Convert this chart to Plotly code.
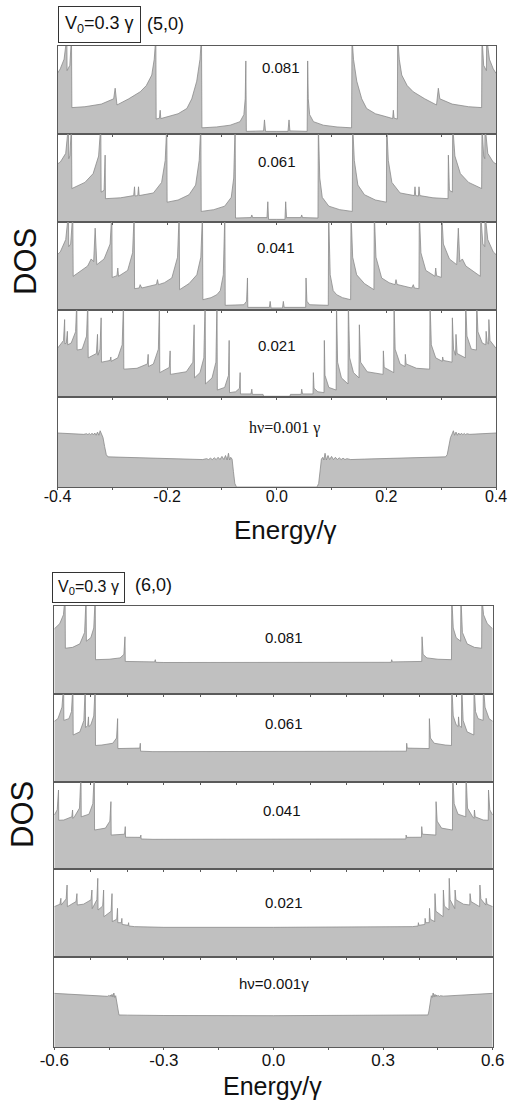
import plotly.graph_objects as go

W, H = 510, 1102

# ---------------- DATA (positive-energy half; DOS curves are symmetric in E) ----------------
# (5,0) tube, V0 = 0.3 gamma ; energy in units of gamma ; DOS normalised to panel height
E50_081 = [0.0000, 0.0205, 0.0224, 0.0240, 0.0555, 0.0564, 0.0575, 0.0600, 0.0670, 0.0850, 0.1100, 0.1365,
           0.1373, 0.1400, 0.1460, 0.1550, 0.1640, 0.1800, 0.2006, 0.2115, 0.2127, 0.2140, 0.2200, 0.2206,
           0.2235, 0.2280, 0.2380, 0.2490, 0.2700, 0.2915, 0.2948, 0.2975, 0.3200, 0.3500, 0.3738, 0.3745,
           0.3775, 0.3825, 0.3830, 0.3880, 0.3950, 0.4000]
D50_081 = [0.03, 0.03, 0.16, 0.035, 0.03, 0.83, 0.40, 0.22, 0.14, 0.10, 0.08, 0.07,
           1.10, 0.85, 0.60, 0.40, 0.29, 0.23, 0.195, 0.175, 0.27, 0.18, 0.17, 1.10,
           0.85, 0.67, 0.55, 0.48, 0.40, 0.33, 0.52, 0.40, 0.34, 0.31, 0.30, 1.10,
           0.78, 0.72, 1.10, 0.85, 0.74, 0.69]

E50_061 = [0.0000, 0.0150, 0.0163, 0.0178, 0.0440, 0.0455, 0.0470, 0.0752, 0.0759, 0.0785, 0.0830, 0.0950,
           0.1150, 0.1378, 0.1385, 0.1415, 0.1480, 0.1600, 0.1800, 0.2000, 0.2006, 0.2035, 0.2100, 0.2250,
           0.2510, 0.2522, 0.2535, 0.2585, 0.2595, 0.2610, 0.2850, 0.3125, 0.3131, 0.3150, 0.3204, 0.3210,
           0.3250, 0.3350, 0.3500, 0.3738, 0.3745, 0.3775, 0.3795, 0.3800, 0.3850, 0.3950, 0.4000]
D50_061 = [0.03, 0.03, 0.23, 0.05, 0.05, 0.08, 0.05, 0.045, 1.10, 0.50, 0.28, 0.18,
           0.14, 0.12, 1.10, 0.70, 0.42, 0.31, 0.25, 0.225, 1.10, 0.70, 0.45, 0.33,
           0.30, 0.40, 0.30, 0.295, 0.40, 0.30, 0.275, 0.265, 0.76, 0.36, 0.34, 1.10,
           0.75, 0.55, 0.45, 0.38, 1.10, 0.75, 0.72, 1.10, 0.78, 0.68, 0.66]

E50_041 = [0.0000, 0.0105, 0.0120, 0.0135, 0.0528, 0.0534, 0.0550, 0.0600, 0.0940, 0.0947, 0.0975, 0.1030,
           0.1093, 0.1200, 0.1348, 0.1355, 0.1385, 0.1458, 0.1600, 0.1773, 0.1780, 0.1810, 0.1914, 0.2050,
           0.2158, 0.2176, 0.2195, 0.2462, 0.2492, 0.2510, 0.2594, 0.2601, 0.2630, 0.2720, 0.2887, 0.2900,
           0.2915, 0.3002, 0.3009, 0.3040, 0.3150, 0.3283, 0.3313, 0.3340, 0.3386, 0.3450, 0.3714, 0.3721,
           0.3760, 0.3795, 0.3800, 0.3850, 0.3950, 0.4000]
D50_041 = [0.023, 0.023, 0.098, 0.03, 0.03, 0.364, 0.10, 0.06, 0.053, 1.10, 0.40, 0.22,
           0.174, 0.14, 0.117, 1.10, 0.60, 0.40, 0.30, 0.231, 1.10, 0.60, 0.364, 0.31,
           0.288, 0.345, 0.29, 0.25, 0.288, 0.25, 0.242, 1.10, 0.65, 0.45, 0.383, 0.477,
           0.39, 0.37, 1.10, 0.75, 0.58, 0.515, 0.93, 0.55, 0.58, 0.50, 0.383, 1.10,
           0.75, 0.72, 1.10, 0.80, 0.66, 0.63]

E50_021 = [0.0000, 0.0240, 0.0250, 0.0445, 0.0455, 0.0470, 0.0662, 0.0668, 0.0680, 0.0750, 0.0862, 0.0868,
           0.0880, 0.0950, 0.1084, 0.1090, 0.1110, 0.1180, 0.1300, 0.1306, 0.1330, 0.1400, 0.1500, 0.1507,
           0.1530, 0.1650, 0.1940, 0.1945, 0.1960, 0.2134, 0.2140, 0.2160, 0.2250, 0.2340, 0.2346, 0.2360,
           0.2550, 0.2790, 0.2796, 0.2820, 0.2900, 0.3020, 0.3027, 0.3040, 0.3198, 0.3204, 0.3225, 0.3262,
           0.3270, 0.3290, 0.3440, 0.3447, 0.3470, 0.3550, 0.3642, 0.3648, 0.3670, 0.3750, 0.3814, 0.3820,
           0.3840, 0.3864, 0.3870, 0.3890, 0.4000]
D50_021 = [0.008, 0.008, 0.03, 0.03, 0.09, 0.035, 0.035, 0.28, 0.10, 0.06, 0.05, 0.65,
           0.25, 0.11, 0.08, 1.10, 0.40, 0.22, 0.15, 1.10, 0.45, 0.28, 0.22, 0.83,
           0.40, 0.29, 0.26, 0.53, 0.34, 0.28, 1.10, 0.55, 0.38, 0.35, 0.49, 0.38,
           0.33, 0.32, 1.10, 0.60, 0.45, 0.41, 0.46, 0.42, 0.40, 0.91, 0.55, 0.48,
           0.72, 0.50, 0.45, 1.10, 0.70, 0.55, 0.54, 1.10, 0.75, 0.62, 0.60, 0.755,
           0.62, 0.61, 0.89, 0.65, 0.56]

E50_001 = [0.0000, 0.0735, 0.0765, 0.0790, 0.0815, 0.0840, 0.0860, 0.0881, 0.0905, 0.0935, 0.0965, 0.1000,
           0.1035, 0.1070, 0.1105, 0.1140, 0.1175, 0.1210, 0.1245, 0.1280, 0.1350, 0.1600, 0.2000, 0.2500,
           0.3080, 0.3110, 0.3140, 0.3170, 0.3200, 0.3222, 0.3245, 0.3270, 0.3295, 0.3320, 0.3345, 0.3370,
           0.3395, 0.3420, 0.3445, 0.3470, 0.3520, 0.4000]
D50_001 = [0.0, 0.0, 0.04, 0.17, 0.31, 0.33, 0.30, 0.375, 0.30, 0.35, 0.305, 0.34,
           0.305, 0.33, 0.305, 0.325, 0.305, 0.32, 0.305, 0.315, 0.305, 0.31, 0.318, 0.325,
           0.335, 0.36, 0.45, 0.55, 0.59, 0.625, 0.575, 0.61, 0.575, 0.60, 0.578, 0.598,
           0.58, 0.595, 0.582, 0.592, 0.585, 0.60]

# (6,0) tube
E60_081 = [0.0000, 0.3000, 0.3222, 0.3235, 0.3255, 0.4058, 0.4066, 0.4095, 0.4200, 0.4500, 0.4872, 0.4880,
           0.4920, 0.5000, 0.5122, 0.5130, 0.5170, 0.5300, 0.5500, 0.5697, 0.5705, 0.5750, 0.5850, 0.6000]
D60_081 = [0.355, 0.358, 0.36, 0.39, 0.365, 0.37, 0.65, 0.45, 0.41, 0.395, 0.39, 1.10,
           0.75, 0.64, 0.60, 1.10, 0.70, 0.57, 0.53, 0.52, 1.10, 0.90, 0.80, 0.74]

E60_061 = [0.0000, 0.3300, 0.3638, 0.3646, 0.3660, 0.4260, 0.4267, 0.4295, 0.4400, 0.4700, 0.4872, 0.4880,
           0.4920, 0.5000, 0.5055, 0.5065, 0.5085, 0.5145, 0.5152, 0.5190, 0.5300, 0.5483, 0.5490, 0.5530,
           0.5600, 0.5738, 0.5745, 0.5790, 0.5900, 0.6000]
D60_061 = [0.345, 0.345, 0.35, 0.44, 0.385, 0.38, 0.72, 0.50, 0.44, 0.42, 0.415, 1.10,
           0.75, 0.65, 0.63, 0.74, 0.64, 0.62, 1.10, 0.70, 0.57, 0.534, 1.10, 0.80,
           0.72, 0.70, 1.10, 0.85, 0.72, 0.69]

E60_041 = [0.0000, 0.3300, 0.3623, 0.3630, 0.3645, 0.4050, 0.4057, 0.4075, 0.4443, 0.4450, 0.4480, 0.4600,
           0.4898, 0.4905, 0.4945, 0.5050, 0.5263, 0.5270, 0.5310, 0.5450, 0.5490, 0.5500, 0.5520, 0.5740,
           0.5878, 0.5885, 0.5920, 0.6000]
D60_041 = [0.341, 0.341, 0.345, 0.39, 0.364, 0.365, 0.487, 0.40, 0.39, 0.774, 0.55, 0.47,
           0.448, 1.10, 0.75, 0.63, 0.60, 1.10, 0.70, 0.60, 0.582, 0.678, 0.60, 0.563,
           0.56, 0.908, 0.68, 0.62]

E60_021 = [0.0000, 0.3000, 0.3800, 0.3958, 0.3966, 0.3980, 0.4142, 0.4150, 0.4165, 0.4262, 0.4270, 0.4290,
           0.4412, 0.4420, 0.4445, 0.4642, 0.4650, 0.4675, 0.4802, 0.4810, 0.4835, 0.4962, 0.4970, 0.4995,
           0.5200, 0.5372, 0.5380, 0.5405, 0.5642, 0.5650, 0.5675, 0.5812, 0.5820, 0.5845, 0.6000]
D60_021 = [0.337, 0.337, 0.345, 0.352, 0.39, 0.36, 0.37, 0.439, 0.39, 0.39, 0.553, 0.43,
           0.402, 0.72, 0.52, 0.458, 0.761, 0.58, 0.534, 0.894, 0.65, 0.55, 0.761, 0.65,
           0.60, 0.591, 0.72, 0.63, 0.572, 0.818, 0.66, 0.59, 0.667, 0.60, 0.572]

E60_001 = [0.0000, 0.3000, 0.4000, 0.4230, 0.4255, 0.4285, 0.4320, 0.4345, 0.4370, 0.4395, 0.4420, 0.4445,
           0.4470, 0.4495, 0.4520, 0.4545, 0.4570, 0.4650, 0.5000, 0.6000]
D60_001 = [0.348, 0.350, 0.354, 0.356, 0.40, 0.50, 0.57, 0.55, 0.60, 0.555, 0.585, 0.56,
           0.578, 0.562, 0.572, 0.563, 0.57, 0.565, 0.572, 0.596]

PANEL_LABELS_50 = ["0.081", "0.061", "0.041", "0.021", "h\u03bd=0.001 \u03b3"]
PANEL_LABELS_60 = ["0.081", "0.061", "0.041", "0.021", "h\u03bd=0.001\u03b3"]

INNER_TICKS_50 = [-0.4, -0.3, -0.2, -0.1, 0.0, 0.1, 0.2, 0.3, 0.4]
MAJOR_TICKS_50 = [-0.4, -0.2, 0.0, 0.2, 0.4]
MAJOR_TEXT_50 = ["-0.4", "-0.2", "0.0", "0.2", "0.4"]
MINOR_TICKS_50 = [-0.3, -0.1, 0.1, 0.3]

INNER_TICKS_60 = [-0.6, -0.5, -0.4, -0.3, -0.2, -0.1, 0.0, 0.1, 0.2, 0.3, 0.4, 0.5, 0.6]
MAJOR_TICKS_60 = [-0.6, -0.3, 0.0, 0.3, 0.6]
MAJOR_TEXT_60 = ["-0.6", "-0.3", "0.0", "0.3", "0.6"]
MINOR_TICKS_60 = [-0.45, -0.15, 0.15, 0.45]

# ---------------- STYLE / LAYOUT ----------------
FILL = "#c0c0c0"
LINE = "#8a8a8a"
FRAME = "#5a5a5a"
TXT = "#111111"
SANS = "Arial, Liberation Sans, sans-serif"
SERIF = "Times New Roman, Liberation Serif, serif"


def mirror(e, d):
    xs = [-v for v in reversed(e)] + list(e[1:])
    ys = list(reversed(d)) + list(d[1:])
    return xs, ys


charts = [
    dict(xr=[-0.4, 0.4], x0=57.5, x1=496.0,
         rows=[(46, 134), (134, 222), (222, 310), (310, 397), (397, 487)],
         E=[E50_081, E50_061, E50_041, E50_021, E50_001],
         D=[D50_081, D50_061, D50_041, D50_021, D50_001],
         labels=PANEL_LABELS_50,
         label_pos=[(281, 67), (277, 161), (276, 247), (277, 346), (284, 428)],
         label_font=[SANS, SANS, SANS, SANS, SERIF], label_size=[15, 15, 15, 15, 16],
         inner=INNER_TICKS_50, major=MAJOR_TICKS_50, major_text=MAJOR_TEXT_50, minor=MINOR_TICKS_50,
         tick_size=16, standoff=-7, box=(99.5, 25, 18, 6), tube=("(5,0)", 165, 24),
         xtitle=(285, 530, 26), ytitle=(25, 262)),
    dict(xr=[-0.6, 0.6], x0=54.3, x1=492.7,
         rows=[(606, 694), (694, 782), (782, 869), (869, 957), (957, 1047)],
         E=[E60_081, E60_061, E60_041, E60_021, E60_001],
         D=[D60_081, D60_061, D60_041, D60_021, D60_001],
         labels=PANEL_LABELS_60,
         label_pos=[(284, 637), (284, 723), (282, 810), (284, 902), (274, 983)],
         label_font=[SANS] * 5, label_size=[15, 15, 15, 15, 15],
         inner=INNER_TICKS_60, major=MAJOR_TICKS_60, major_text=MAJOR_TEXT_60, minor=MINOR_TICKS_60,
         tick_size=17, standoff=-4, box=(88.5, 587, 16, 5), tube=("(6,0)", 153, 585),
         xtitle=(272, 1086, 25), ytitle=(22, 815)),
]


def fx(px):
    return px / W


def fy(py):
    return 1 - py / H


def note(px, py, text, size, family=SANS, **kw):
    return dict(x=fx(px), y=fy(py), xref="paper", yref="paper", xanchor="center", yanchor="middle",
                text=text, showarrow=False, font=dict(family=family, size=size, color=TXT), **kw)


fig = go.Figure()
layout = {}
annotations = []
aid = 0
for c, ch in enumerate(charts):
    for p in range(5):
        aid += 1
        xa = "x" if aid == 1 else f"x{aid}"
        ya = "y" if aid == 1 else f"y{aid}"
        xs, ys = mirror(ch["E"][p], ch["D"][p])
        fig.add_trace(go.Scatter(x=xs, y=ys, xaxis=xa, yaxis=ya, mode="lines",
                                 line=dict(color=LINE, width=0.8), fill="tozeroy",
                                 fillcolor=FILL, hoverinfo="skip", showlegend=False))
        top, bot = ch["rows"][p]
        layout["xaxis" if aid == 1 else f"xaxis{aid}"] = dict(
            domain=[fx(ch["x0"]), fx(ch["x1"])], range=ch["xr"], anchor=ya, side="top",
            ticks="inside" if p > 0 else "", tickmode="array", tickvals=ch["inner"],
            ticklen=3, tickwidth=1, tickcolor=FRAME, showticklabels=False,
            showline=True, mirror=True, linecolor=FRAME, linewidth=1, automargin=False,
            showgrid=False, zeroline=False, fixedrange=True)
        layout["yaxis" if aid == 1 else f"yaxis{aid}"] = dict(
            domain=[fy(bot), fy(top)], range=[0, 1], anchor=xa, automargin=False,
            showline=True, mirror=True, linecolor=FRAME, linewidth=1,
            ticks="", showticklabels=False, showgrid=False, zeroline=False, fixedrange=True)
        lx, ly = ch["label_pos"][p]
        annotations.append(note(lx, ly, ch["labels"][p], ch["label_size"][p], ch["label_font"][p]))
    # overlay axis on the lowest panel: labelled energy axis
    base = c * 5 + 5
    oid = 10 + c + 1
    fig.add_trace(go.Scatter(x=[ch["xr"][0]], y=[-1], xaxis=f"x{oid}", yaxis=f"y{base}",
                             mode="markers", marker=dict(size=1, opacity=0),
                             hoverinfo="skip", showlegend=False))
    layout[f"xaxis{oid}"] = dict(
        overlaying=f"x{base}", anchor=f"y{base}", side="bottom", range=ch["xr"],
        domain=[fx(ch["x0"]), fx(ch["x1"])],
        tickmode="array", tickvals=ch["major"], ticktext=ch["major_text"],
        ticks="outside", ticklen=2, tickwidth=1, tickcolor=FRAME, ticklabelstandoff=ch["standoff"],
        tickfont=dict(family=SANS, size=ch["tick_size"], color=TXT),
        minor=dict(tickmode="array", tickvals=ch["minor"], ticks="outside", ticklen=2,
                   tickcolor=FRAME, showgrid=False),
        showline=False, showgrid=False, zeroline=False, fixedrange=True, automargin=False)
    # V0 box
    bx, by, bs, bp = ch["box"]
    annotations.append(note(bx, by, "V<sub>0</sub>=0.3 \u03b3", bs,
                            bordercolor="#333333", borderwidth=1, borderpad=bp, bgcolor="white"))
    tt, tx, ty = ch["tube"]
    annotations.append(note(tx, ty, tt, 18))
    xtx, xty, xts = ch["xtitle"]
    annotations.append(note(xtx, xty, "Energy/\u03b3", xts))
    ytx, yty = ch["ytitle"]
    annotations.append(note(ytx, yty, "DOS", 31, textangle=-90))

fig.update_layout(**layout)
fig.update_layout(width=W, height=H, margin=dict(l=0, r=0, t=0, b=0, autoexpand=False),
                  paper_bgcolor="white", plot_bgcolor="white",
                  showlegend=False, annotations=annotations)
fig.write_html("out.html")
